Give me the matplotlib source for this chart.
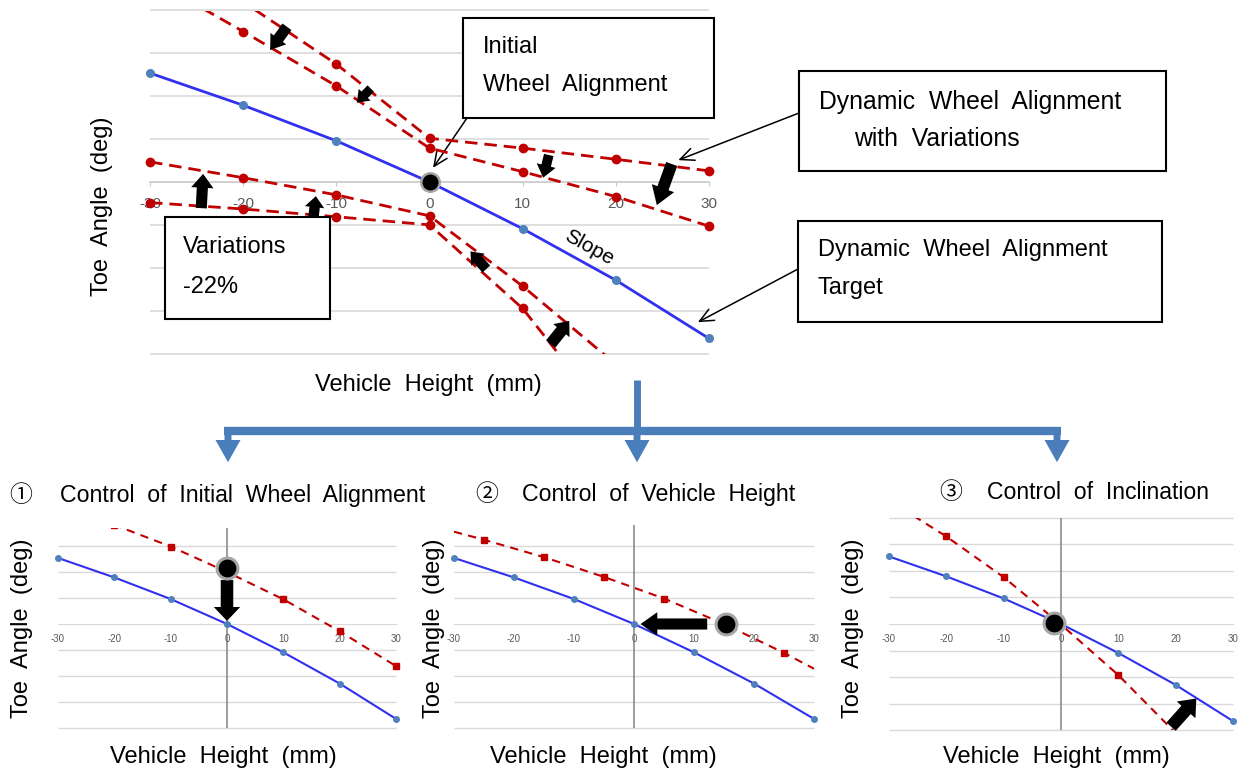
import matplotlib
matplotlib.use('Agg')
import matplotlib.pyplot as plt
from matplotlib.patches import Rectangle, FancyArrowPatch
from matplotlib.lines import Line2D

plt.rcParams['font.family'] = ['Liberation Sans', 'Noto Sans CJK JP', 'DejaVu Sans']

W, H = 1242, 772

# ---------------- data ----------------
height_mm = [-30, -20, -10, 0, 10, 20, 30]
tick_labels = ['-30', '-20', '-10', '0', '10', '20', '30']
toe_target = [2.54, 1.79, 0.96, 0.0, -1.09, -2.29, -3.65]

# variations (main chart)
var_a = [5.6, 4.2, 2.75, 1.02, 0.79, 0.53, 0.26]
var_b = [4.75, 3.51, 2.24, 0.79, 0.24, -0.34, -1.03]
var_c = [0.47, 0.10, -0.30, -0.79, -2.43, -4.25, -6.2]
var_d = [-0.48, -0.63, -0.81, -1.00, -2.95, -5.7, -8.0]
initial_point = (0.0, 0.0)

# panel 1: control of initial wheel alignment
p1_red = [4.55, 3.81, 2.98, 2.0, 0.95, -0.28, -1.62]
p1_point = (0.0, 2.15)

# panel 2: control of vehicle height
p2_x = [-30, -25, -15, -5, 5, 15, 25, 30]
p2_red = [3.55, 3.24, 2.57, 1.81, 0.98, 0.0, -1.11, -1.72]
p2_point = (15.3, 0.0)

# panel 3: control of inclination
p3_red = [4.65, 3.29, 1.76, -0.02, -1.92, -4.1, -6.5]
p3_point = (-1.3, 0.03)

BLUE = '#3030f0'
BLUE_MK = '#4f81bd'
RED = '#c00000'
GRID = '#d9d9d9'
FLOW = '#4a7ebb'

fig = plt.figure(figsize=(W / 100, H / 100), dpi=100)


def fx(px):
    return px / W


def fy(py):
    return 1 - py / H


def make_axes(xl_px, xr_px, y0_px, ypx_per_unit, ylim):
    s = (xr_px - xl_px) / 60.0
    left = xl_px - s
    right = xr_px + s
    top = y0_px - ylim[1] * ypx_per_unit
    bot = y0_px - ylim[0] * ypx_per_unit
    ax = fig.add_axes([left / W, 1 - bot / H, (right - left) / W, (bot - top) / H])
    ax.set_xlim(-31, 31)
    ax.set_ylim(*ylim)
    ax.patch.set_alpha(0)
    for sp in ax.spines.values():
        sp.set_visible(False)
    ax.set_yticks([])
    return ax


def block(ax, tail, head, hw, hl, tw, color='black', z=6):
    ax.annotate('', xy=head, xytext=tail, xycoords='data', textcoords='data',
                arrowprops=dict(arrowstyle=f'simple,head_width={hw},head_length={hl},tail_width={tw}',
                                fc=color, ec=color, lw=0, shrinkA=0, shrinkB=0,
                                mutation_scale=1), zorder=z, annotation_clip=False)


def dot(ax, pt, ms, mew):
    ax.plot([pt[0]], [pt[1]], 'o', ms=ms, mfc='black', mec='#a6a6a6', mew=mew,
            zorder=7, clip_on=False)


# ---------------- main chart ----------------
ax = make_axes(150, 709, 182, 42.875, (-4, 4))
ax.hlines([-4, -3, -2, -1, 1, 2, 3, 4], -30, 30, colors=GRID, lw=1.2, zorder=0, clip_on=False)
ax.spines['bottom'].set_visible(True)
ax.spines['bottom'].set_position(('data', 0))
ax.spines['bottom'].set_bounds(-30, 30)
ax.spines['bottom'].set_color('#c8c8c8')
ax.spines['bottom'].set_linewidth(1.2)
ax.set_xticks(height_mm)
ax.set_xticklabels(tick_labels)
ax.tick_params(axis='x', length=3, color='#c8c8c8', labelsize=11, labelcolor='#595959', pad=8)

ax.plot(height_mm, toe_target, color=BLUE, lw=2, marker='o', ms=5.5,
        mfc=BLUE_MK, mec=BLUE_MK, zorder=3)
for v in (var_a, var_b, var_c, var_d):
    ax.plot(height_mm, v, color=RED, lw=2, ls=(0, (4.5, 2.5)), marker='o', ms=6,
            mfc=RED, mec=RED, zorder=4)

block(ax, (-15.3, 3.62), (-17.1, 3.08), 14, 10, 8)
block(ax, (-6.3, 2.18), (-7.8, 1.85), 12, 8, 6.5)
block(ax, (12.8, 0.63), (12.2, 0.10), 14, 9, 7)
block(ax, (26.0, 0.42), (24.4, -0.54), 17, 13, 8.5)
block(ax, (-24.5, -0.61), (-24.3, 0.19), 16, 10, 8)
block(ax, (-12.5, -0.91), (-12.2, -0.33), 14, 8, 7.5)
block(ax, (6.1, -2.03), (4.4, -1.62), 13, 8, 7.5)
block(ax, (13.0, -3.78), (15.0, -3.24), 15, 9, 8.5)

dot(ax, initial_point, 13.3, 1.8)
ax.text(17.1, -1.52, 'Slope', rotation=-29, fontsize=15, ha='center', va='center', zorder=5)

# leader arrows from the boxes
lead = dict(arrowstyle='->,head_length=1.0,head_width=0.45', lw=1.1, color='black',
            shrinkA=0, shrinkB=0)
ax.annotate('', xy=(0.38, 0.33), xytext=(fx(467), fy(118)), textcoords='figure fraction',
            arrowprops=lead, annotation_clip=False)
ax.annotate('', xy=(26.7, 0.51), xytext=(fx(799), fy(113)), textcoords='figure fraction',
            arrowprops=lead, annotation_clip=False)
ax.annotate('', xy=(28.8, -3.27), xytext=(fx(798), fy(269)), textcoords='figure fraction',
            arrowprops=lead, annotation_clip=False)

fig.text(fx(428), fy(385), 'Vehicle  Height  (mm)', ha='center', va='center', fontsize=17)
fig.text(fx(102), fy(206), 'Toe  Angle  (deg)', ha='center', va='center', rotation=90, fontsize=17)


def box(x0, y0, x1, y1):
    fig.add_artist(Rectangle((fx(x0), fy(y1)), (x1 - x0) / W, (y1 - y0) / H,
                             transform=fig.transFigure, fc='white', ec='black', lw=1.5, zorder=2))


def btext(x, y, s, size=17):
    fig.text(fx(x), fy(y), s, ha='left', va='center', fontsize=size, zorder=3)


box(463, 18, 714, 118)
btext(483, 47, 'Initial')
btext(483, 85, 'Wheel  Alignment')
box(799, 71, 1166, 171)
btext(819, 102, 'Dynamic  Wheel  Alignment', 17.8)
btext(854, 139, 'with  Variations', 17.8)
box(798, 221, 1162, 322)
btext(818, 250, 'Dynamic  Wheel  Alignment')
btext(818, 288, 'Target')
box(165, 217, 330, 319)
btext(183, 247, 'Variations')
btext(183, 287, '-22%')

# ---------------- flow connectors ----------------
lw_flow = 5
fig.add_artist(Line2D([fx(637), fx(637)], [fy(380), fy(432)], transform=fig.transFigure,
                      color=FLOW, lw=lw_flow, solid_capstyle='butt'))
fig.add_artist(Line2D([fx(224), fx(1061)], [fy(431), fy(431)], transform=fig.transFigure,
                      color=FLOW, lw=lw_flow + 1, solid_capstyle='butt'))
for xa in (228, 637, 1057):
    fig.add_artist(FancyArrowPatch((fx(xa), fy(430)), (fx(xa), fy(465)),
                                   transform=fig.transFigure,
                                   arrowstyle='simple,head_width=18,head_length=16,tail_width=5',
                                   mutation_scale=1, fc=FLOW, ec=FLOW, lw=0))

# ---------------- bottom panels ----------------


def panel(xl, xr, y0, ypu, ylim, red_x, red_y, mark_idx, grid_levels):
    a = make_axes(xl, xr, y0, ypu, ylim)
    a.hlines(grid_levels, -30, 30, colors=GRID, lw=1, zorder=0, clip_on=False)
    a.axvline(0, color='#8c8c8c', lw=1.2, zorder=1)
    a.spines['bottom'].set_visible(True)
    a.spines['bottom'].set_position(('data', 0))
    a.spines['bottom'].set_bounds(-30, 30)
    a.spines['bottom'].set_color(GRID)
    a.set_xticks(height_mm)
    a.set_xticklabels(tick_labels)
    a.tick_params(axis='x', length=0, labelsize=7, labelcolor='#595959', pad=7)
    a.plot(height_mm, toe_target, color=BLUE, lw=1.5, marker='o', ms=4,
           mfc=BLUE_MK, mec=BLUE_MK, zorder=3)
    a.plot(red_x, red_y, color=RED, lw=1.5, ls=(0, (4, 3)), marker='s', ms=4.5,
           mfc=RED, mec=RED, markevery=mark_idx, zorder=4)
    return a


a1 = panel(58, 396, 624, 26, (-4, 3.7), height_mm, p1_red, [0, 1, 2, 4, 5, 6],
           [-4, -3, -2, -1, 1, 2, 3])
dot(a1, p1_point, 15, 2.2)
block(a1, (0, 1.69), (0, 0.12), 19, 10, 9)

a2 = panel(454, 814, 624, 26, (-4, 3.8), p2_x, p2_red, [1, 2, 3, 4, 6],
           [-4, -3, -2, -1, 1, 2, 3])
dot(a2, p2_point, 15, 2.2)
block(a2, (12.2, 0), (1.1, 0), 17, 12, 8)

a3 = panel(889, 1233, 624, 26.6, (-4, 4), height_mm, p3_red, [1, 2, 4],
           [-4, -3, -2, -1, 1, 2, 3, 4])
dot(a3, p3_point, 15, 2.2)
block(a3, (19.2, -3.86), (23.6, -2.8), 18, 11, 9)

# panel titles and labels
fig.text(fx(21), fy(496), '①', ha='center', va='center', fontsize=16.5)
fig.text(fx(60), fy(496), 'Control  of  Initial  Wheel  Alignment', ha='left', va='center', fontsize=16.7)
fig.text(fx(487), fy(495), '②', ha='center', va='center', fontsize=16.5)
fig.text(fx(522), fy(495), 'Control  of  Vehicle  Height', ha='left', va='center', fontsize=16.7)
fig.text(fx(951), fy(492), '③', ha='center', va='center', fontsize=16.5)
fig.text(fx(987), fy(492), 'Control  of  Inclination', ha='left', va='center', fontsize=16.6)

for xc, yl in ((223, 22), (603, 434), (1056, 853)):
    fig.text(fx(xc), fy(757), 'Vehicle  Height  (mm)', ha='center', va='center', fontsize=17)
    fig.text(fx(yl), fy(628), 'Toe  Angle  (deg)', ha='center', va='center', rotation=90, fontsize=17)

fig.savefig('out.png', dpi=100)
